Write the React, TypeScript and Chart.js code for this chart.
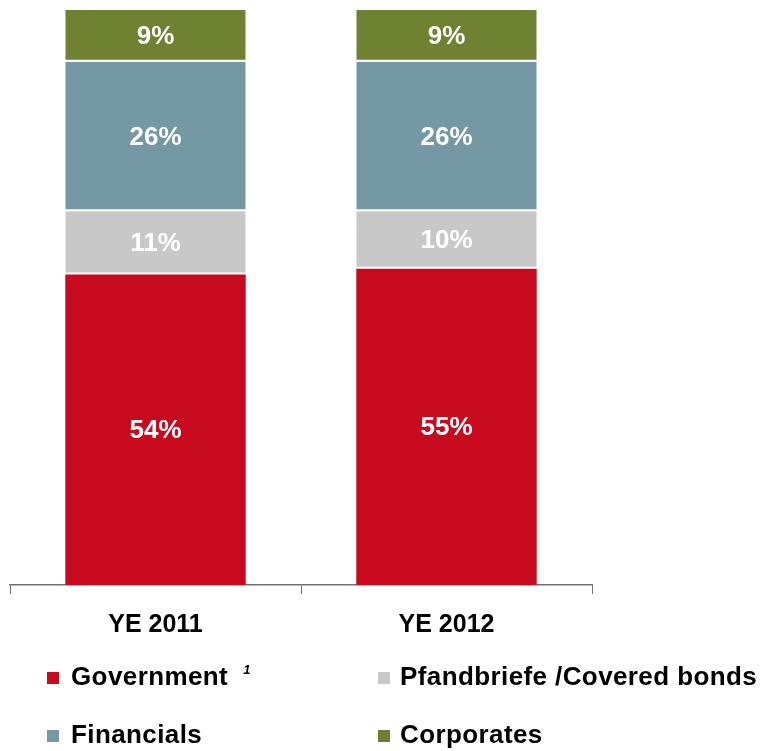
import React, { useEffect, useRef } from "react";
import { Chart, registerables } from "chart.js";

Chart.register(...registerables);

const categories = ["YE 2011", "YE 2012"];
const government = [54, 55];
const pfandbriefe = [11, 10];
const financials = [26, 26];
const corporates = [9, 9];

const seriesNames = ["Government", "Pfandbriefe /Covered bonds", "Financials", "Corporates"];
const seriesColors = ["#C80A1E", "#C8C8C8", "#7498A4", "#6E8232"];

const FONT = "'Liberation Sans', Arial, Helvetica, sans-serif";

const labelPlugin = {
  id: "segLabels",
  afterDatasetsDraw(chart: any) {
    const ctx = chart.ctx;
    ctx.save();
    ctx.fillStyle = "#FFFFFF";
    ctx.font = `bold 26px ${FONT}`;
    ctx.textAlign = "center";
    ctx.textBaseline = "middle";
    chart.data.datasets.forEach((ds: any, di: number) => {
      const meta = chart.getDatasetMeta(di);
      meta.data.forEach((el: any, i: number) => {
        const p = el.getProps(["x", "y", "base"], true);
        const cy = (p.y + p.base) / 2;
        ctx.fillText(`${ds.data[i]}%`, p.x, cy + 1);
      });
    });
    ctx.restore();
  },
};

export default function App() {
  const ref = useRef<HTMLCanvasElement | null>(null);
  useEffect(() => {
    if (!ref.current) return;
    const seriesData = [government, pfandbriefe, financials, corporates];
    const chart = new Chart(ref.current, {
      type: "bar",
      data: {
        labels: categories,
        datasets: seriesData.map((d, i) => ({
          label: seriesNames[i],
          data: d,
          backgroundColor: seriesColors[i],
          borderColor: "#FFFFFF",
          borderWidth: i === 0 ? 0 : { top: 0, left: 0, right: 0, bottom: 2 },
          borderSkipped: false,
          categoryPercentage: 0.62,
          barPercentage: 1,
        })),
      },
      options: {
        responsive: false,
        animation: false,
        events: [],
        layout: { padding: { left: 10, right: 171, top: 10, bottom: 95 } },
        plugins: { legend: { display: false }, tooltip: { enabled: false }, title: { display: false } },
        scales: {
          x: {
            stacked: true,
            grid: {
              display: true,
              drawOnChartArea: false,
              drawTicks: true,
              tickLength: 9,
              color: "#707070",
              offset: true,
            },
            border: { display: true, color: "#707070", width: 1.5 },
            ticks: {
              color: "#000000",
              font: { family: FONT, size: 25, weight: "bold" },
              padding: 16,
            },
          },
          y: {
            stacked: true,
            display: false,
            min: 0,
            max: 100,
          },
        },
      },
      plugins: [labelPlugin],
    });
    return () => chart.destroy();
  }, []);

  const legendText: React.CSSProperties = {
    position: "absolute",
    fontFamily: FONT,
    fontWeight: "bold",
    fontSize: 26,
    lineHeight: "26px",
    letterSpacing: "0.4px",
    color: "#000",
    whiteSpace: "nowrap",
  };
  const sq = (left: number, top: number, color: string): React.CSSProperties => ({
    position: "absolute",
    left,
    top,
    width: 12,
    height: 12,
    background: color,
  });

  return (
    <div style={{ position: "fixed", left: 0, top: 0, width: 763, height: 751, background: "#fff" }}>
      <canvas ref={ref} width={763} height={751} style={{ position: "absolute", left: 0, top: 0 }} />
      <div style={sq(47, 672, seriesColors[0])} />
      <div style={{ ...legendText, left: 71, top: 663 }}>
        {seriesNames[0]}
        <span style={{ fontSize: 13, fontStyle: "italic", verticalAlign: "top", position: "relative", top: -6, marginLeft: 15 }}>1</span>
      </div>
      <div style={sq(378, 672, seriesColors[1])} />
      <div style={{ ...legendText, left: 400, top: 663 }}>{seriesNames[1]}</div>
      <div style={sq(47, 730, seriesColors[2])} />
      <div style={{ ...legendText, left: 71, top: 721 }}>{seriesNames[2]}</div>
      <div style={sq(378, 730, seriesColors[3])} />
      <div style={{ ...legendText, left: 400, top: 721 }}>{seriesNames[3]}</div>
    </div>
  );
}
